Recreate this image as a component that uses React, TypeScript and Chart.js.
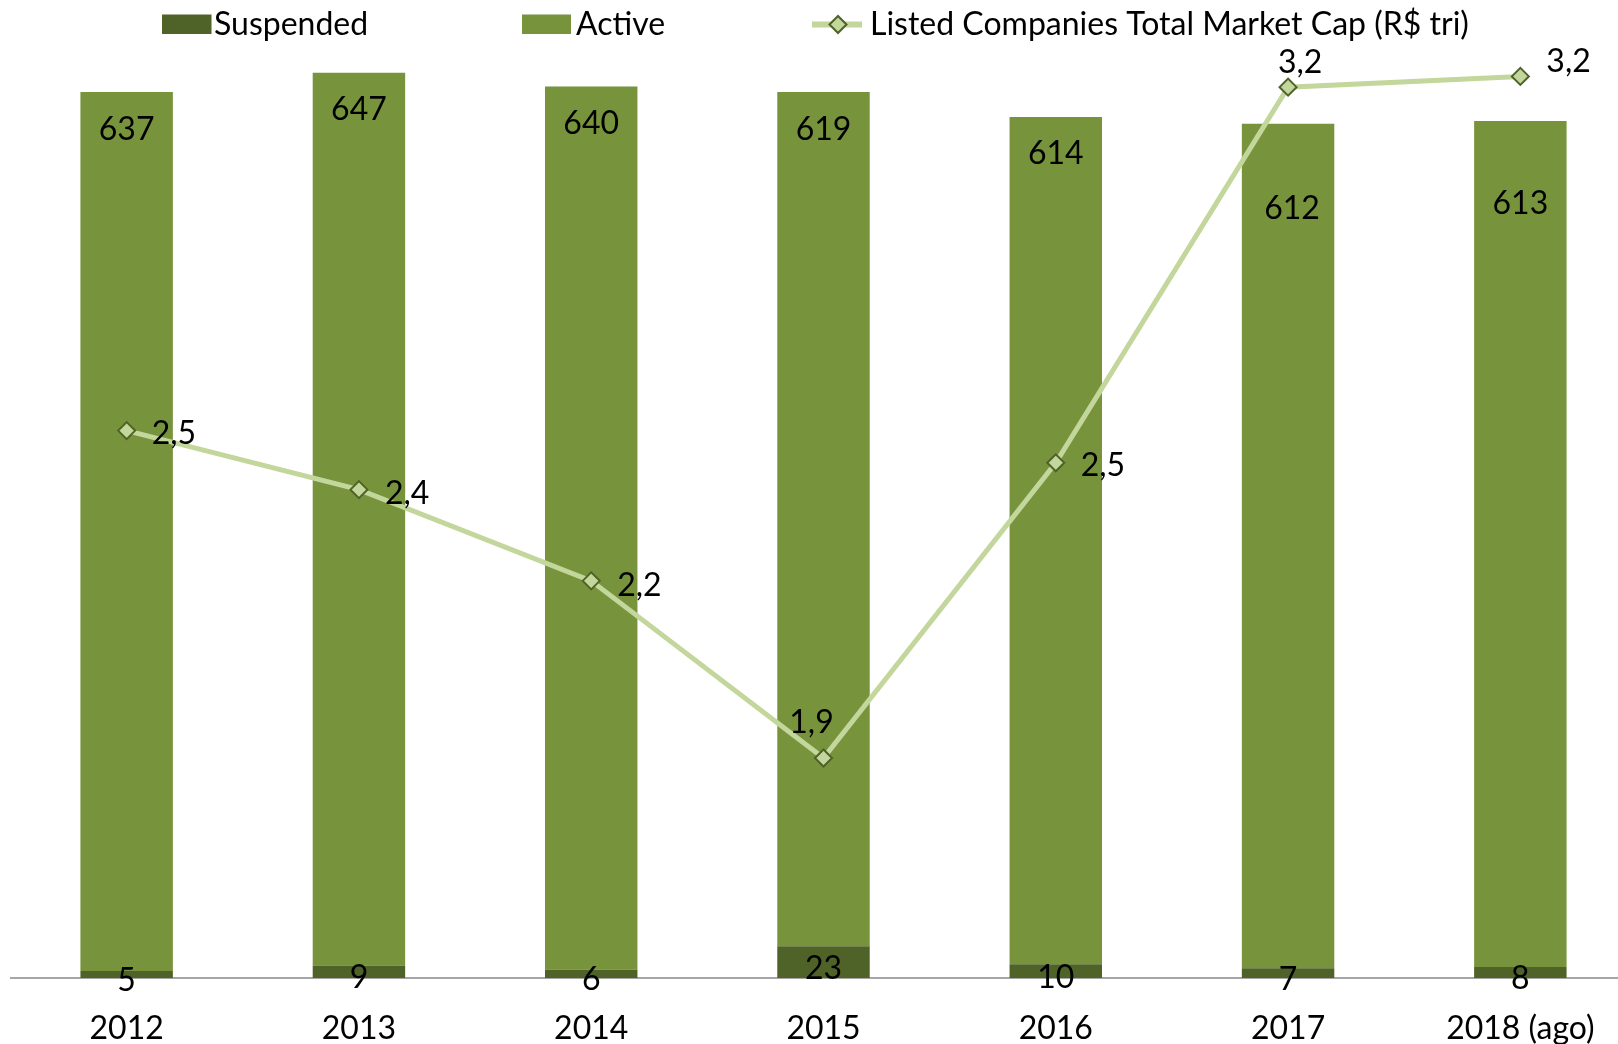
import React, { useEffect, useRef } from "react";
import { Chart, registerables } from "chart.js";

Chart.register(...registerables);

const categories = ["2012", "2013", "2014", "2015", "2016", "2017", "2018 (ago)"];
const suspended = [5, 9, 6, 23, 10, 7, 8];
const active = [637, 647, 640, 619, 614, 612, 613];
const marketCap = [2.52, 2.41, 2.24, 1.91, 2.46, 3.16, 3.18];

const FONT = "Lato";
const FS = 32;
const DARK = "#4F6228";
const GREEN = "#77933C";
const LIGHT = "#C3D69B";

const CAP = FS * 0.7165;

const valueLabels = {
  id: "valueLabels",
  afterDatasetsDraw(chart: any, _args: any, opts: any) {
    const ctx = chart.ctx;
    ctx.save();
    ctx.font = `${FS}px ${FONT}`;
    ctx.fillStyle = "#000";
    ctx.textBaseline = "alphabetic";
    const half = CAP / 2;
    const m0 = chart.getDatasetMeta(0);
    m0.data.forEach((bar: any, i: number) => {
      const p = bar.getProps(["x", "y", "base"], true);
      const mid = (p.y + p.base) / 2 + 5;
      ctx.textAlign = "center";
      ctx.fillText(String(suspended[i]), p.x, mid + half);
    });
    const m1 = chart.getDatasetMeta(1);
    m1.data.forEach((bar: any, i: number) => {
      const p = bar.getProps(["x", "y"], true);
      ctx.textAlign = "center";
      ctx.fillText(String(active[i]), p.x + opts.activeDx[i], p.y + opts.activeDy[i] + half);
    });
    const m2 = chart.getDatasetMeta(2);
    m2.data.forEach((pt: any, i: number) => {
      const p = pt.getProps(["x", "y"], true);
      const pl = opts.linePlacement[i];
      const txt = marketCap[i].toFixed(1).replace(".", ",");
      ctx.textAlign = pl.align;
      ctx.fillText(txt, p.x + pl.dx, p.y + pl.dy + half);
    });
    ctx.restore();
  },
};

const customLegend = {
  id: "customLegend",
  afterDraw(chart: any) {
    const ctx = chart.ctx;
    const ds = chart.data.datasets;
    ctx.save();
    ctx.font = `${FS}px ${FONT}`;
    ctx.fillStyle = "#000";
    ctx.textBaseline = "alphabetic";
    ctx.textAlign = "left";
    const baseline = 35;
    // Suspended
    ctx.fillStyle = ds[0].backgroundColor;
    ctx.fillRect(162, 14.5, 49.5, 19.5);
    ctx.fillStyle = "#000";
    ctx.fillText(ds[0].label, 214, baseline);
    // Active
    ctx.fillStyle = ds[1].backgroundColor;
    ctx.fillRect(522, 14.5, 49, 19.5);
    ctx.fillStyle = "#000";
    ctx.fillText(ds[1].label, 576, baseline);
    // Line
    ctx.strokeStyle = ds[2].borderColor;
    ctx.lineWidth = 6;
    ctx.beginPath();
    ctx.moveTo(812, 24.5);
    ctx.lineTo(862, 24.5);
    ctx.stroke();
    const cx = 838, cy = 24.5, r = 8.5;
    ctx.beginPath();
    ctx.moveTo(cx - r, cy);
    ctx.lineTo(cx, cy - r);
    ctx.lineTo(cx + r, cy);
    ctx.lineTo(cx, cy + r);
    ctx.closePath();
    ctx.fillStyle = ds[2].pointBackgroundColor;
    ctx.fill();
    ctx.lineWidth = 2;
    ctx.strokeStyle = ds[2].pointBorderColor;
    ctx.stroke();
    ctx.fillStyle = "#000";
    ctx.fillText(ds[2].label, 870, baseline);
    ctx.restore();
  },
};

export default function App() {
  const ref = useRef<HTMLCanvasElement | null>(null);
  useEffect(() => {
    document.body.style.margin = "0";
    document.body.style.overflow = "hidden";
    if (!ref.current) return;
    const chart = new Chart(ref.current, {
      type: "bar",
      data: {
        labels: categories,
        datasets: [
          {
            type: "bar",
            label: "Suspended",
            data: suspended,
            backgroundColor: DARK,
            yAxisID: "y",
            order: 1,
            categoryPercentage: 1,
            barPercentage: 0.398,
          },
          {
            type: "bar",
            label: "Active",
            data: active,
            backgroundColor: GREEN,
            yAxisID: "y",
            order: 2,
            categoryPercentage: 1,
            barPercentage: 0.398,
          },
          {
            type: "line",
            label: "Listed Companies Total Market Cap (R$ tri)",
            data: marketCap,
            borderColor: LIGHT,
            borderWidth: 5,
            pointStyle: "rectRot",
            pointRadius: 8.5,
            pointBackgroundColor: LIGHT,
            pointBorderColor: DARK,
            pointBorderWidth: 2,
            yAxisID: "y1",
            order: 0,
            tension: 0,
          } as any,
        ],
      },
      options: {
        responsive: false,
        animation: false,
        events: [],
        layout: { padding: { left: 10, right: 4.4, top: 12, bottom: 1.6 } },
        plugins: {
          legend: { display: false },
          tooltip: { enabled: false },
          title: { display: false },
          valueLabels: {
            activeDx: [0, 0, 0, 0, 0, 4, 0],
            activeDy: [36, 36, 36, 36, 36, 84, 82],
            linePlacement: [
              { align: "left", dx: 25, dy: 2 },
              { align: "left", dx: 26, dy: 3 },
              { align: "left", dx: 26, dy: 4 },
              { align: "center", dx: -12, dy: -36 },
              { align: "left", dx: 25, dy: 2 },
              { align: "center", dx: 12, dy: -26 },
              { align: "left", dx: 26, dy: -16 },
            ],
          },
        } as any,
        scales: {
          x: {
            stacked: true,
            offset: true,
            grid: { display: false, drawTicks: false },
            border: { display: true, color: "#A6A6A6", width: 2 },
            ticks: {
              color: "#000",
              font: { family: FONT, size: FS },
              padding: 31,
              maxRotation: 0,
              autoSkip: false,
            },
          },
          y: { stacked: true, min: 0, max: 700, display: false },
          y1: { min: 1.5, max: 3.3, display: false },
        },
      },
      plugins: [valueLabels, customLegend],
    });
    return () => chart.destroy();
  }, []);
  return (
    <div style={{ width: 1618, height: 1044, overflow: "hidden", background: "#fff" }}>
      <canvas ref={ref} width={1647} height={1080} style={{ width: 1647, height: 1080, display: "block" }} />
    </div>
  );
}
